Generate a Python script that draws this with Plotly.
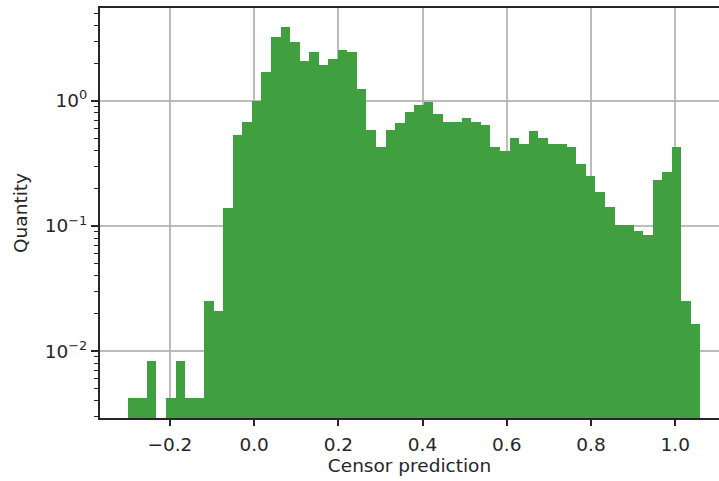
import plotly.graph_objects as go

# Histogram (density) of censor predictions, 60 bins from -0.30 to 1.06
bin_start = -0.30
bin_end = 1.06
n_bins = 60
density = [
    0.0042, 0.0042, 0.0083, None, 0.0042, 0.0083, 0.0042, 0.0042, 0.025, 0.021,
    0.14, 0.53, 0.68, 0.99, 1.70, 3.25, 3.87, 2.94, 2.08, 2.47,
    1.94, 2.16, 2.56, 2.47, 1.25, 0.58, 0.43, 0.58, 0.67, 0.81,
    0.93, 0.98, 0.78, 0.68, 0.68, 0.73, 0.68, 0.64, 0.425, 0.395,
    0.50, 0.454, 0.57, 0.50, 0.454, 0.454, 0.425, 0.31, 0.25, 0.186,
    0.142, 0.102, 0.102, 0.091, 0.084, 0.235, 0.27, 0.425, 0.025, 0.0164,
]
x_ticks = [-0.2, 0.0, 0.2, 0.4, 0.6, 0.8, 1.0]
x_tick_text = ["\u22120.2", "0.0", "0.2", "0.4", "0.6", "0.8", "1.0"]
y_ticks = [0.01, 0.1, 1]
y_tick_text = ["10<sup>\u22122</sup>", "10<sup>\u22121</sup>", "10<sup>0</sup>"]
x_label = "Censor prediction"
y_label = "Quantity"

width = (bin_end - bin_start) / n_bins
centers = [bin_start + (i + 0.5) * width for i in range(n_bins)]

minor_vals = [k * 10 ** e for e in range(-3, 1) for k in range(2, 10)]

font = dict(family="DejaVu Sans", size=18.5, color="#262626")
axis_color = "#262626"
grid_color = "rgba(176,176,176,0.85)"

fig = go.Figure(
    go.Bar(
        x=centers,
        y=density,
        width=[width] * n_bins,
        marker=dict(color="#40a040", line=dict(width=0)),
        hoverinfo="x+y",
    )
)

fig.update_layout(
    width=719,
    height=481,
    margin=dict(l=100, r=0, t=8, b=63),
    paper_bgcolor="white",
    plot_bgcolor="white",
    font=font,
    bargap=0,
    showlegend=False,
    xaxis=dict(
        range=[-0.366, 1.104],
        tickvals=x_ticks,
        ticktext=x_tick_text,
        ticks="outside",
        ticklen=6,
        tickwidth=1.5,
        tickcolor=axis_color,
        ticklabelstandoff=3,
        showline=True,
        linecolor=axis_color,
        linewidth=2,
        mirror=True,
        showgrid=True,
        gridcolor=grid_color,
        gridwidth=1.5,
        zeroline=False,
        layer="above traces",
        title=dict(text=x_label, standoff=5, font=font),
        tickfont=font,
    ),
    yaxis=dict(
        type="log",
        range=[-2.534, 0.741],
        tickvals=y_ticks,
        ticktext=y_tick_text,
        ticks="outside",
        ticklen=7,
        tickwidth=1.5,
        tickcolor=axis_color,
        showline=True,
        linecolor=axis_color,
        linewidth=2,
        mirror=False,
        showgrid=True,
        gridcolor=grid_color,
        gridwidth=1.5,
        zeroline=False,
        layer="above traces",
        minor=dict(
            tickvals=minor_vals,
            ticks="outside",
            ticklen=4,
            tickwidth=1,
            tickcolor=axis_color,
            showgrid=False,
        ),
        title=dict(text=y_label, standoff=12, font=font),
        tickfont=font,
    ),
)

fig.write_html("out.html")
